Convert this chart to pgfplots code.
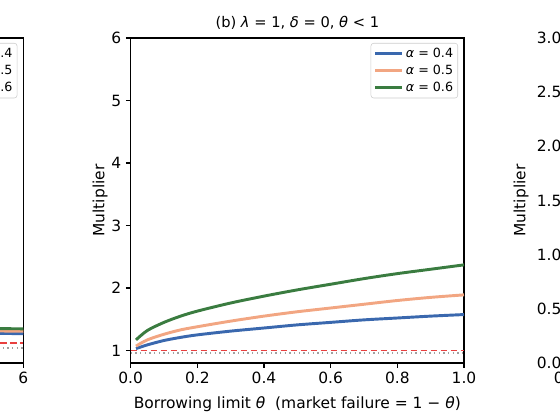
\documentclass[border=0pt]{standalone}
\usepackage{fontspec}
\setmainfont{DejaVu Sans}
\usepackage{pgfplots}
\pgfplotsset{compat=1.18}

\definecolor{cblue}{HTML}{3A68AE}
\definecolor{corange}{HTML}{F2A682}
\definecolor{cgreen}{HTML}{3A7C40}
\definecolor{cred}{HTML}{E8403F}
\definecolor{cgray}{HTML}{A0A0A0}

\newcommand{\gr}[1]{{\itshape #1}}
\newcommand{\lbl}{\fontsize{11.6}{13}\selectfont}

\pgfplotsset{
  panel/.style={
    scale only axis, width=250pt, height=243.75pt,
    axis line style={line width=0.8pt},
    tick align=outside, tick pos=left,
    major tick length=3.6pt,
    every tick/.style={black, line width=0.8pt},
    tick label style={font=\lbl},
    label style={font=\lbl},
    /pgf/number format/assume math mode=true,
    ylabel={Multiplier},
    xlabel style={at={(axis description cs:0.5,0)}, anchor=base, yshift=-34.5pt},
    ylabel style={at={(axis description cs:-0.092,0.5)}, anchor=center},
    every axis title/.style={at={(axis description cs:0.5,1)}, anchor=base,
      yshift=7.5pt, font=\fontsize{11}{13}\selectfont},
    legend style={at={(axis description cs:1,1)}, anchor=north east,
      xshift=-4.5pt, yshift=-3.75pt, draw=black!20, rounded corners=2pt,
      font=\fontsize{9.5}{11}\selectfont, inner xsep=2pt, inner ysep=2pt,
      row sep=1.2pt, nodes={inner sep=1.5pt}},
    legend cell align=left,
    legend image code/.code={\draw[##1] (0pt,0pt) -- (20.5pt,0pt);},
  },
  curve/.style={line width=2.2pt},
  refred/.style={cred, line width=1.1pt, dash pattern=on 5pt off 2.5pt},
  refgray/.style={cgray, line width=1.1pt, dash pattern=on 1.1pt off 2.4pt},
}

\begin{document}
\begin{tikzpicture}
\useasboundingbox (0,0) rectangle (420pt,315pt);
\clip (0,0) rectangle (420pt,315pt);

% (a) left panel, only its right edge is in view
\begin{axis}[panel, at={(-232.5pt,42.75pt)}, anchor=south west,
  xmin=0, xmax=6, ymin=0.8, ymax=6, xtick={0,1,...,6}, ytick={1,...,6}]
\addplot[refred] coordinates {(0,1.123) (6,1.123)};
\addplot[refgray, forget plot] coordinates {(0,1.037) (6,1.037)};
\addplot[curve, cblue] coordinates {(5.4,1.275) (5.7,1.272) (6,1.270)};
\addlegendentry{\gr{α} = 0.4}
\addplot[curve, corange] coordinates {(5.4,1.314) (5.7,1.311) (6,1.309)};
\addlegendentry{\gr{α} = 0.5}
\addplot[curve, cgreen] coordinates {(5.4,1.352) (5.7,1.349) (6,1.347)};
\addlegendentry{\gr{α} = 0.6}
\end{axis}

% (b) centre panel
\begin{axis}[panel, at={(98pt,42.75pt)}, anchor=south west,
  xmin=0, xmax=1, ymin=0.8, ymax=6,
  xtick={0,0.2,...,1.0}, ytick={1,...,6},
  xticklabel style={/pgf/number format/fixed, /pgf/number format/fixed zerofill,
    /pgf/number format/precision=1},
  title={(b) \gr{λ} = 1, \gr{δ} = 0, \gr{θ} < 1},
  xlabel={Borrowing limit \gr{θ}\ \ (market failure = 1 − \gr{θ})}]
\addplot[refred, forget plot] coordinates {(0,1.0) (1,1.0)};
\addplot[refgray, forget plot] coordinates {(0,0.963) (1,0.963)};
\addplot[curve, cblue, smooth] coordinates {
  (0.016,1.03) (0.05,1.09) (0.1,1.16) (0.15,1.21) (0.2,1.25) (0.3,1.31)
  (0.4,1.36) (0.5,1.41) (0.6,1.45) (0.7,1.49) (0.8,1.52) (0.9,1.55) (1.0,1.575)};
\addlegendentry{\gr{α} = 0.4}
\addplot[curve, corange, smooth] coordinates {
  (0.016,1.07) (0.05,1.17) (0.1,1.26) (0.15,1.33) (0.2,1.38) (0.3,1.47)
  (0.4,1.55) (0.5,1.62) (0.6,1.68) (0.7,1.74) (0.8,1.80) (0.9,1.85) (1.0,1.89)};
\addlegendentry{\gr{α} = 0.5}
\addplot[curve, cgreen, smooth] coordinates {
  (0.016,1.17) (0.05,1.32) (0.1,1.45) (0.15,1.55) (0.2,1.63) (0.3,1.76)
  (0.4,1.87) (0.5,1.97) (0.6,2.06) (0.7,2.15) (0.8,2.23) (0.9,2.30) (1.0,2.37)};
\addlegendentry{\gr{α} = 0.6}
\end{axis}

% (c) right panel, only its left edge is in view
\begin{axis}[panel, at={(428.25pt,42.75pt)}, anchor=south west,
  xmin=0, xmax=0.05, ymin=0, ymax=3, scaled x ticks=false,
  xtick={0,0.01,0.02,0.03,0.04,0.05}, ytick={0,0.5,...,3.0},
  ylabel style={at={(axis description cs:-0.15,0.5)}, anchor=center},
  xticklabel style={/pgf/number format/fixed, /pgf/number format/fixed zerofill,
    /pgf/number format/precision=2},
  yticklabel style={/pgf/number format/fixed, /pgf/number format/fixed zerofill,
    /pgf/number format/precision=1}]
\addplot[draw=none, forget plot] coordinates {(0,0) (0.05,3)};
\end{axis}
\end{tikzpicture}
\end{document}
